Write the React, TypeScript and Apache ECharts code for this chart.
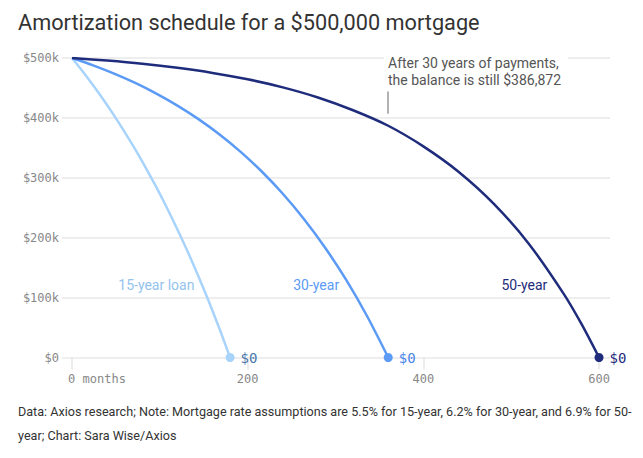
import React, { useEffect, useRef } from "react";
import * as echarts from "echarts";

const title = "Amortization schedule for a $500,000 mortgage";
const footLines = [
  "Data: Axios research; Note: Mortgage rate assumptions are 5.5% for 15-year, 6.2% for 30-year, and 6.9% for 50-",
  "year; Chart: Sara Wise/Axios",
];
const annotation = ["After 30 years of payments,", "the balance is still $386,872"];

const xTicks = [0, 200, 400, 600];

// balances in $ thousands
const months15 = [0, 12, 24, 36, 48, 60, 72, 84, 96, 108, 120, 132, 144, 156, 168, 180];
const bal15 = [500, 477.9, 454.6, 430.0, 403.9, 376.4, 347.4, 316.7, 284.3, 250.0, 213.8, 175.7, 135.3, 92.7, 47.5, 0];

const months30 = [0, 24, 48, 72, 96, 120, 144, 168, 192, 216, 240, 264, 288, 312, 336, 360];
const bal30 = [500, 487.8, 474.0, 458.4, 440.6, 420.6, 398.0, 372.3, 343.3, 310.5, 273.4, 231.3, 183.7, 129.9, 68.9, 0];

const months50 = [0, 40, 80, 120, 160, 200, 240, 280, 320, 360, 400, 440, 480, 520, 560, 580, 600];
const bal50 = [500, 495.7, 490.4, 483.6, 475.1, 464.4, 451.0, 434.1, 412.8, 386.9, 352.5, 310.2, 256.9, 190.0, 105.8, 56.0, 0];

const names = ["15-year loan", "30-year", "50-year"];
const lineColors = ["#a8d4fb", "#5b9bf6", "#1f2c7c"];
const labelColors = ["#94c3ee", "#5b9bf6", "#1f2c7c"];
const zeroColors = ["#4a78aa", "#4b86ea", "#1f2c7c"];
const labelPos: [number, number][] = [
  [96, 121],
  [278, 121],
  [515, 121],
];

const MONO = "'DejaVu Sans Mono', monospace";
const SANS = "Roboto, 'Noto Sans', sans-serif";

export default function App() {
  const ref = useRef<HTMLDivElement>(null);
  useEffect(() => {
    if (!ref.current) return;
    const chart = echarts.init(ref.current, null, { renderer: "svg" });
    const sets = [
      [months15, bal15],
      [months30, bal30],
      [months50, bal50],
    ];
    const series: any[] = sets.map(([m, b], i) => {
      const last = m.length - 1;
      return {
        type: "line",
        name: names[i],
        smooth: 0.3,
        symbol: "circle",
        symbolSize: 0,
        showSymbol: true,
        z: 3 + i,
        lineStyle: { color: lineColors[i], width: 2.5 },
        itemStyle: { color: lineColors[i] },
        data: m.map((x, k) =>
          k === last
            ? {
                value: [x, b[k]],
                symbolSize: 9,
                label: {
                  show: true,
                  position: "right",
                  distance: 6,
                  formatter: "$0",
                  fontFamily: MONO,
                  fontSize: 14,
                  color: zeroColors[i],
                },
              }
            : { value: [x, b[k]] }
        ),
        markPoint: {
          symbol: "circle",
          symbolSize: 0,
          silent: true,
          label: {
            show: true,
            position: "inside",
            formatter: names[i],
            fontFamily: SANS,
            fontSize: 14,
            color: labelColors[i],
          },
          data: [{ coord: labelPos[i] }],
        },
        markLine:
          i === 2
            ? {
                symbol: "none",
                silent: true,
                label: { show: false },
                lineStyle: { color: "#999999", width: 1.5, type: "solid" },
                data: [[{ coord: [360, 407] }, { coord: [360, 444] }]],
              }
            : undefined,
      };
    });

    chart.setOption({
      animation: false,
      backgroundColor: "#ffffff",
      grid: { left: 62, right: 33, top: 58, bottom: 100.5, containLabel: false },
      xAxis: {
        type: "value",
        min: -11.4,
        max: 612.5,
        axisLine: { show: false },
        splitLine: { show: false },
        axisTick: {
          show: true,
          length: 12,
          customValues: xTicks,
          lineStyle: { color: "#e6e6e6", width: 1.5 },
        },
        axisLabel: {
          customValues: xTicks,
          margin: 15,
          fontFamily: MONO,
          fontSize: 12,
          color: "#888888",
          formatter: (v: number) => (v === 0 ? "{first|0 months}" : String(v)),
          rich: {
            first: { fontFamily: MONO, fontSize: 12, color: "#888888", padding: [0, 0, 0, 50] },
          },
        },
      },
      yAxis: {
        type: "value",
        min: 0,
        max: 500,
        interval: 100,
        axisLine: { show: false },
        axisTick: { show: false },
        splitLine: { show: true, lineStyle: { color: "#eeeeee", width: 2 } },
        axisLabel: {
          margin: 3,
          fontFamily: MONO,
          fontSize: 12,
          color: "#888888",
          formatter: (v: number) => (v === 0 ? "$0" : `$${v}k`),
        },
      },
      series,
      graphic: [
        {
          type: "text",
          left: 18,
          top: 11,
          style: {
            text: title,
            font: `400 21.7px ${SANS}`,
            fill: "#333333",
          },
        },
        {
          type: "rect",
          shape: { x: 384, y: 50, width: 184, height: 40 },
          style: { fill: "#ffffff" },
          z: 10,
        },
        ...annotation.map((t, k) => ({
          type: "text",
          x: 388,
          y: 63 + k * 16.5,
          z: 11,
          style: {
            text: t,
            font: `400 14px ${SANS}`,
            fill: "#555555",
            textVerticalAlign: "middle",
          },
        })),
        ...footLines.map((t, k) => ({
          type: "text",
          x: 18,
          y: 411 + k * 24.5,
          style: {
            text: t,
            font: `400 12.6px ${SANS}`,
            fill: "#333333",
            textVerticalAlign: "middle",
          },
        })),
      ],
    });
    return () => chart.dispose();
  }, []);
  return <div ref={ref} style={{ width: 643, height: 458, margin: -8 }} />;
}
